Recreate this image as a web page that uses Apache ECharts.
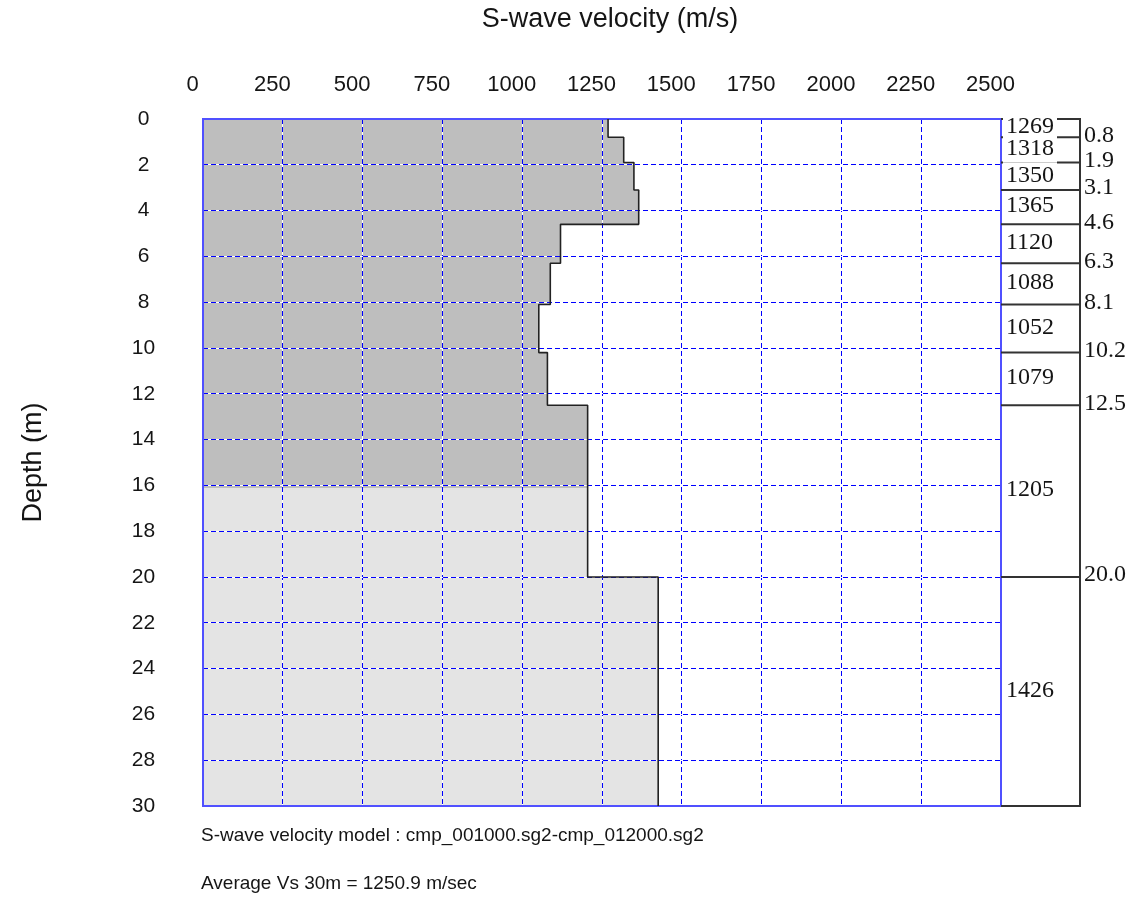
<!DOCTYPE html>
<html><head><meta charset="utf-8">
<script src="https://cdn.jsdelivr.net/npm/echarts@6/dist/echarts.min.js"></script>
<style>html,body{margin:0;padding:0;background:#fff}#chart{width:1143px;height:900px}</style>
</head><body><div id="chart"></div>
<script>
// ---- data ----
const layerBottoms = [0.8, 1.9, 3.1, 4.6, 6.3, 8.1, 10.2, 12.5, 20.0, 30.0];
const layerVelocities = [1269, 1318, 1350, 1365, 1120, 1088, 1052, 1079, 1205, 1426];
const shadeChangeDepth = 16.1;
const velocityRange = [0, 2500];
const velocityStep = 250;
const depthRange = [0, 30];
const depthStep = 2;
const titleText = 'S-wave velocity (m/s)';
const depthName = 'Depth (m)';
const modelText = 'S-wave velocity model : cmp_001000.sg2-cmp_012000.sg2';
const averageText = 'Average Vs 30m = 1250.9 m/sec';

// ---- derived structures ----
const layerTops = [depthRange[0]].concat(layerBottoms.slice(0, -1));
const fillRects = [];
layerVelocities.forEach((v, i) => {
  const t = layerTops[i], b = layerBottoms[i];
  if (b <= shadeChangeDepth) fillRects.push([t, b, v, 0]);
  else if (t >= shadeChangeDepth) fillRects.push([t, b, v, 1]);
  else { fillRects.push([t, shadeChangeDepth, v, 0]); fillRects.push([shadeChangeDepth, b, v, 1]); }
});
const profilePts = [];
layerVelocities.forEach((v, i) => { profilePts.push([v, layerTops[i]]); profilePts.push([v, layerBottoms[i]]); });
const panelData = layerVelocities.map((v, i) => [layerTops[i], layerBottoms[i], v, i === layerVelocities.length - 1 ? 1 : 0]);
const velocityTicks = [];
for (let x = velocityRange[0] + velocityStep; x < velocityRange[1]; x += velocityStep) velocityTicks.push(x);
const depthTicks = [];
for (let d = depthRange[0] + depthStep; d < depthRange[1]; d += depthStep) depthTicks.push(d);

const SANS = '"Liberation Sans", Arial, sans-serif';
const SERIF = '"Liberation Serif", "Times New Roman", serif';
const TXT = '#151515';
const plain = v => String(v);
const crisp = p => Math.round(p - 0.5) + 0.5;

const chart = echarts.init(document.getElementById('chart'), null, {renderer: 'canvas'});
chart.setOption({
  animation: false,
  backgroundColor: '#ffffff',
  grid: [
    {left: 203, top: 119, width: 798, height: 687, containLabel: false, outerBoundsMode: 'none',
     show: true, borderColor: '#5050ff', borderWidth: 2, backgroundColor: 'transparent', z: 4},
    {left: 1001, top: 119, width: 79, height: 687, containLabel: false, outerBoundsMode: 'none', show: false}
  ],
  xAxis: [
    {type: 'value', gridIndex: 0, position: 'top', min: velocityRange[0], max: velocityRange[1], interval: velocityStep, z: 3,
     axisLine: {show: false}, axisTick: {show: false}, splitLine: {show: false},
     axisLabel: {show: true, formatter: plain, color: TXT, fontFamily: SANS, fontSize: 22, margin: 23, padding: [0, 21, 0, 0], showMinLabel: true, showMaxLabel: true}},
    {type: 'value', gridIndex: 1, min: 0, max: 1, show: false}
  ],
  yAxis: [
    {type: 'value', gridIndex: 0, inverse: true, min: depthRange[0], max: depthRange[1], interval: depthStep, z: 3,
     name: depthName, nameLocation: 'middle', nameGap: 156, nameRotate: 90,
     nameTextStyle: {color: TXT, fontFamily: SANS, fontSize: 27},
     axisLine: {show: false}, axisTick: {show: false}, splitLine: {show: false},
     axisLabel: {show: true, formatter: plain, color: TXT, fontFamily: SANS, fontSize: 21, margin: 59.5, align: 'center', showMinLabel: true, showMaxLabel: true}},
    {type: 'value', gridIndex: 1, inverse: true, min: depthRange[0], max: depthRange[1], show: false}
  ],
  series: [
    {type: 'custom', xAxisIndex: 0, yAxisIndex: 0, z: 1, clip: false, silent: true,
     data: fillRects, encode: {x: 2, y: [0, 1]},
     renderItem: function (params, api) {
       const p1 = api.coord([0, api.value(0)]);
       const p2 = api.coord([api.value(2), api.value(1)]);
       const y1 = Math.round(p1[1]), y2 = Math.round(p2[1]);
       return {type: 'rect', shape: {x: Math.round(p1[0]), y: y1, width: Math.round(p2[0]) - Math.round(p1[0]), height: y2 - y1},
               style: {fill: api.value(3) ? '#e4e4e4' : '#bebebe'}};
     }},
    {type: 'custom', xAxisIndex: 0, yAxisIndex: 0, z: 3, clip: false, silent: true,
     data: [[0, 0]], encode: {x: 0, y: 1},
     renderItem: function (params, api) {
       const children = [];
       const tl = api.coord([velocityRange[0], depthRange[0]]);
       const br = api.coord([velocityRange[1], depthRange[1]]);
       const addLine = (x1, y1, x2, y2) => {
         children.push({type: 'line', shape: {x1, y1, x2, y2}, style: {stroke: '#ffffff', lineWidth: 1}});
         children.push({type: 'line', shape: {x1, y1, x2, y2}, style: {stroke: '#0000ff', lineWidth: 1, lineDash: [5, 3]}});
       };
       velocityTicks.forEach(v => { const x = crisp(api.coord([v, 0])[0]); addLine(x, tl[1], x, br[1]); });
       depthTicks.forEach(d => { const y = crisp(api.coord([0, d])[1]); addLine(tl[0], y, br[0], y); });
       return {type: 'group', children};
     }},
    {type: 'line', xAxisIndex: 0, yAxisIndex: 0, z: 10, data: profilePts, showSymbol: false, symbol: 'none',
     lineStyle: {color: '#222222', width: 1.6}, silent: true},
    {type: 'custom', xAxisIndex: 1, yAxisIndex: 1, z: 5, clip: false, silent: true,
     data: panelData, encode: {x: 2, y: [0, 1]},
     renderItem: function (params, api) {
       const top = api.value(0), bot = api.value(1), v = api.value(2), last = api.value(3);
       const a = api.coord([0, top]), b = api.coord([1, top]);
       const c = api.coord([1, bot]), d = api.coord([0, bot]);
       const m = api.coord([0, (top + bot) / 2]);
       const ls = {stroke: '#333333', lineWidth: 2};
       const children = [
         {type: 'line', z2: 1, shape: {x1: a[0], y1: a[1], x2: b[0], y2: b[1]}, style: ls},
         {type: 'line', z2: 1, shape: {x1: b[0], y1: b[1] - 1, x2: c[0], y2: c[1] + 1}, style: ls},
         {type: 'text', z2: 20, x: m[0] + 2, y: m[1] - 1,
          style: {text: String(v), fill: TXT, fontFamily: SERIF, fontSize: 24, lineHeight: 24,
                  align: 'left', verticalAlign: 'middle', backgroundColor: '#ffffff', padding: [1, 3, 1, 3]}}
       ];
       if (last) {
         children.push({type: 'line', z2: 1, shape: {x1: d[0], y1: d[1], x2: c[0], y2: c[1]}, style: ls});
       } else {
         children.push({type: 'text', z2: 20, x: c[0] + 4, y: c[1] - 2,
           style: {text: bot.toFixed(1), fill: TXT, fontFamily: SERIF, fontSize: 24,
                   align: 'left', verticalAlign: 'middle'}});
       }
       return {type: 'group', children: children};
     }}
  ],
  graphic: [
    {type: 'text', x: 610, y: 20, style: {text: titleText, fill: TXT, fontFamily: SANS, fontSize: 27, align: 'center', verticalAlign: 'middle'}},
    {type: 'text', x: 201, y: 836, style: {text: modelText, fill: TXT, fontFamily: SANS, fontSize: 19, align: 'left', verticalAlign: 'middle'}},
    {type: 'text', x: 201, y: 884, style: {text: averageText, fill: TXT, fontFamily: SANS, fontSize: 19, align: 'left', verticalAlign: 'middle'}}
  ]
});
</script>
</body></html>
